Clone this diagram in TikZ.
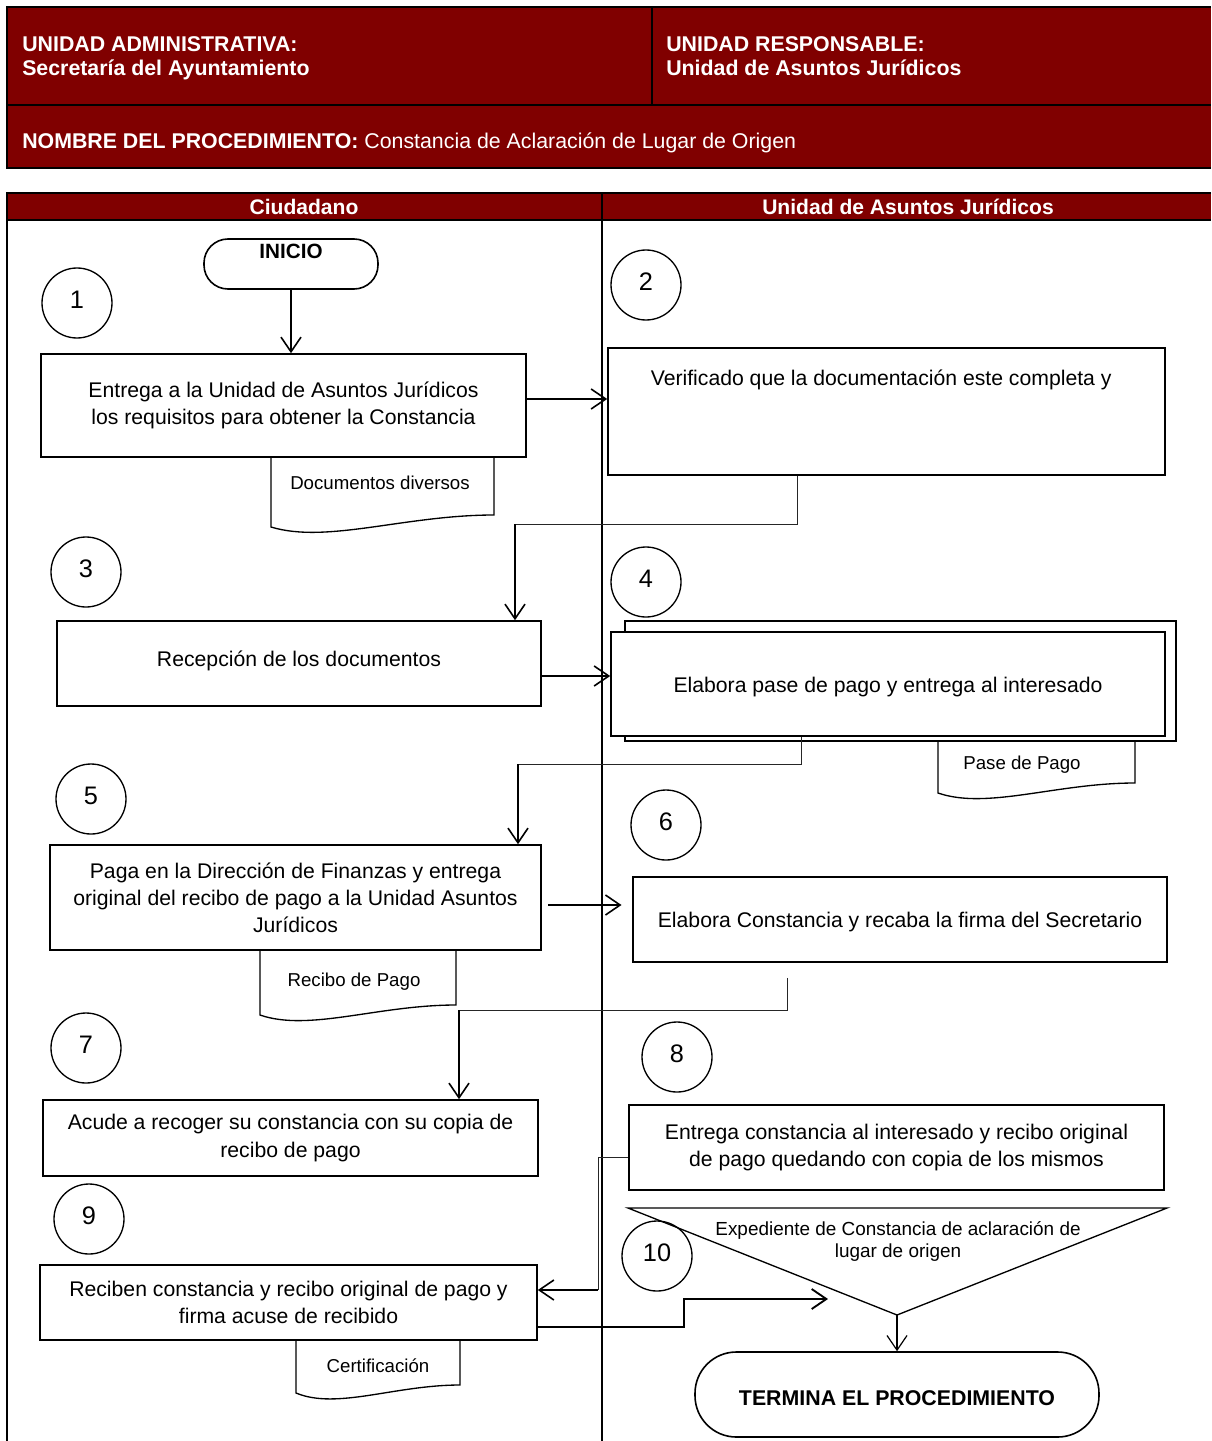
\documentclass[tikz,border=0pt]{standalone}
\usepackage{fontspec}
\setmainfont{Liberation Sans}
\usetikzlibrary{arrows.meta,calc}
\definecolor{guinda}{HTML}{800000}

% document symbol hanging under a box: left, right, top, bottom-left, bottom-right
\newcommand\docsheet[5]{%
  \draw[docline] (#1,#3) -- (#1,#4)
    .. controls ({#1+0.25*(#2-#1)},{#4+17}) and ({#1+0.6*(#2-#1)},{#5}) .. (#2,#5)
    -- (#2,#3);}

\begin{document}
\begin{tikzpicture}[x=0.75pt,y=-0.75pt,
  every node/.style={inner sep=0pt},
  sz/.style 2 args={minimum width=#1*0.75pt, minimum height=#2*0.75pt},
  txt/.style={font=\fontsize{15.9}{20.3}\selectfont, align=center},
  box/.style={draw, line width=1.2pt, txt, fill=white},
  term/.style={box, rounded corners=#1},
  num/.style={draw, circle, line width=1pt, minimum size=52.5pt, text depth=4.4pt,
    font=\fontsize{19}{22}\selectfont},
  docline/.style={line width=1pt},
  doctxt/.style={font=\fontsize{14}{16.5}\selectfont, align=center},
  flow/.style={line width=1.2pt, -{Straight Barb[length=11pt,width=15pt]}},
  thinlink/.style={line width=0.7pt, draw=black!85},
  hdr/.style={text=white, font=\bfseries\fontsize{16}{18}\selectfont, align=left},
  lanehdr/.style={text=white, font=\bfseries\fontsize{15.8}{18}\selectfont},
  heavy/.style={line width=1.5pt}
]
\useasboundingbox (0,0) rectangle (1211,1441);

% ---- title block
\fill[guinda] (7,7) rectangle (1211,168);
\draw[heavy] (1211,7) -- (7,7) -- (7,168) -- (1211,168);
\draw[heavy] (7,105) -- (1211,105);
\draw[line width=1pt] (652,7) -- (652,105);
\node[hdr, anchor=west] (ua) at (22,58) {UNIDAD ADMINISTRATIVA:\\Secretaría del Ayuntamiento};
\node[hdr, anchor=west] (ur) at (666,56) {UNIDAD RESPONSABLE:\\Unidad de Asuntos Jurídicos};
\node[hdr, anchor=west] (np) at (22,143) {NOMBRE DEL PROCEDIMIENTO: {\mdseries Constancia de Aclaración de Lugar de Origen}};

% ---- swimlanes
\fill[guinda] (7,193) rectangle (1211,220);
\draw[heavy] (1211,193) -- (7,193) -- (7,1441);
\draw[heavy] (7,220) -- (1211,220);
\draw[heavy] (602,193) -- (602,1441);
\node[lanehdr] (lc) at (304,207) {Ciudadano};
\node[lanehdr] (lu) at (908,207) {Unidad de Asuntos Jurídicos};

% ---- steps
\node[term=18pt, sz={174}{50},
  label={[anchor=base, yshift=-15.4pt, font=\bfseries\fontsize{15.5}{18}\selectfont]north:INICIO}] (ini) at (291,264) {};
\node[num] (c1) at (77,303) {1};
\node[box, sz={485}{103}] (b1) at (283.5,405.5) {Entrega a la Unidad de Asuntos Jurídicos\\los requisitos para obtener la Constancia};
\docsheet{271}{494}{457}{527}{515}
\node[doctxt] (d1) at (380,483) {Documentos diversos};

\node[num] (c2) at (646,285) {2};
\node[box, sz={557}{127},
  label={[anchor=base, yshift=-29pt, xshift=-4pt, txt]north:Verificado que la documentación este completa y}] (b2) at (886.5,411.5) {};

\node[num] (c3) at (86,572) {3};
\node[box, sz={484}{85}, text depth=7pt] (b3) at (299,663.5) {Recepción de los documentos};

\node[num] (c4) at (646,582) {4};
\node[box, sz={551}{120}] (b4back) at (900.5,681) {};
\node[box, sz={554}{104}, text height=16pt] (b4) at (888,684) {Elabora pase de pago y entrega al interesado};
\docsheet{938}{1135}{741}{793}{783}
\node[doctxt] (d4) at (1022,765) {Pase de Pago};

\node[num] (c5) at (91,799) {5};
\node[box, sz={491}{105}] (b5) at (295.5,897.5) {Paga en la Dirección de Finanzas y entrega\\original del recibo de pago a la Unidad Asuntos\\Jurídicos};
\docsheet{260}{456}{950}{1015}{1005}
\node[doctxt] (d5) at (354,982) {Recibo de Pago};

\node[num] (c6) at (666,825) {6};
\node[box, sz={534}{85}, text height=16pt] (b6) at (900,919.5) {Elabora Constancia y recaba la firma del Secretario};

\node[num] (c7) at (86,1048) {7};
\node[box, sz={495}{76}] (b7) at (290.5,1138) {Acude a recoger su constancia con su copia de\\recibo de pago};

\node[num] (c8) at (677,1057) {8};
\node[box, sz={535}{85}] (b8) at (896.5,1147.5) {Entrega constancia al interesado y recibo original\\de pago quedando con copia de los mismos};

\node[num] (c9) at (89,1219) {9};
\node[box, sz={497}{75}] (b9) at (288.5,1302.5) {Reciben constancia y recibo original de pago y\\firma acuse de recibido};
\docsheet{296}{460}{1340}{1393}{1385}
\node[doctxt] (d9) at (378,1366) {Certificación};

% archive triangle
\coordinate (ta) at (628,1208);
\coordinate (tb) at (1167,1208);
\coordinate (tc) at (897,1315);
\draw[line width=1pt] (ta) -- (tb) -- (tc) -- cycle;
\node[doctxt, font=\fontsize{14.2}{16.5}\selectfont] (tri) at (898,1241) {Expediente de Constancia de aclaración de\\lugar de origen};

\node[num] (c10) at (657,1256) {10};
\node[term=31pt, sz={404}{85}, text height=16pt,
  font=\bfseries\fontsize{16}{18}\selectfont] (fin) at (897,1394.5) {TERMINA EL PROCEDIMIENTO};

% ---- connectors
\draw[flow] (ini.south) -- (ini.south |- b1.north);
\draw[flow] (b1.east |- {0,399}) -- (b2.west |- {0,399});

\draw[thinlink] ($(b2.south west)!0.341!(b2.south east)$) |- (515,524) coordinate (j2);
\draw[flow] (j2) -- (j2 |- b3.north);

\draw[flow] (b3.east |- {0,676}) -- (b4.west |- {0,676});

\draw[thinlink] ($(b4.south west)!0.345!(b4.south east)$) |- (518,764) coordinate (j4);
\draw[flow] (j4) -- (j4 |- b5.north);

\draw[flow, shorten <=5pt, shorten >=8pt] (b5.east |- {0,905}) -- (b6.west |- {0,905});

\draw[thinlink] ($(b6.south west)!0.29!(b6.south east)+(0,15)$) |- (459,1010) coordinate (j6);
\draw[flow] (j6) -- (j6 |- b7.north);

\draw[thinlink] (b8.west |- {0,1157}) -| (598,1290) coordinate (j8);
\draw[flow] (j8) -- (j8 -| b9.east);

\coordinate (tin) at (828,1299);
\draw[flow, line width=1.4pt] (b9.east |- {0,1327}) -| (684,1299) -- (tin);

\draw[flow, line width=0.9pt] (tc) -- (fin.north);
\end{tikzpicture}
\end{document}
